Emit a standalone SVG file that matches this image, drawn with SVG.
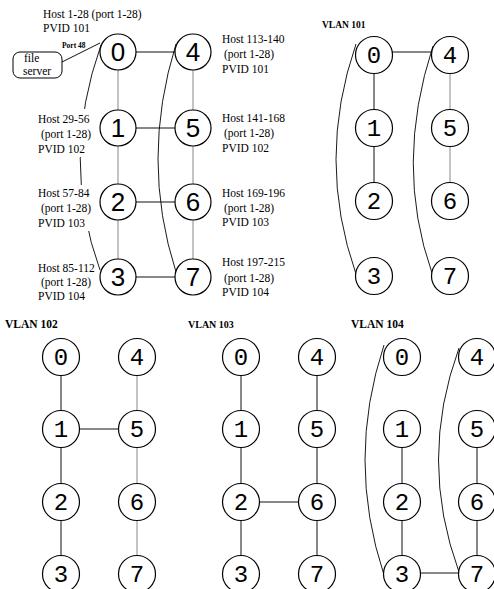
<svg xmlns="http://www.w3.org/2000/svg" width="494" height="589" viewBox="0 0 494 589">
<style>
.n{fill:#fff;stroke:#000;stroke-width:1.2}
.ds{font-family:"Liberation Sans",Arial,sans-serif;font-size:26px;text-anchor:middle;fill:#000}
.dm{font-family:"Liberation Mono","Courier New",monospace;font-size:24px;text-anchor:middle;fill:#000}
.l{font-family:"Liberation Serif","Times New Roman",serif;font-size:11.5px;fill:#000}
.v{font-family:"Liberation Serif","Times New Roman",serif;font-weight:bold;fill:#000}
.e{stroke:#111;stroke-width:1;fill:none}
.g{stroke:#888;stroke-width:1;fill:none}
.a{stroke:#000;stroke-width:0.9;fill:none}
</style>
<defs>
<mask id="lblmask" maskUnits="userSpaceOnUse" x="0" y="0" width="494" height="589">
<rect x="0" y="0" width="494" height="589" fill="#fff"/>
<rect x="36" y="109" width="62" height="48" fill="#000"/>
<rect x="36" y="185" width="62" height="46" fill="#000"/>
<rect x="36" y="261" width="60" height="42" fill="#000"/>
</mask>
</defs>

<!-- labels -->
<g id="labels">
<text class="l" x="43" y="18">Host 1-28 (port 1-28)</text>
<text class="l" x="43" y="32">PVID 101</text>
<text class="l" x="38" y="123">Host 29-56</text>
<text class="l" x="41" y="138">(port 1-28)</text>
<text class="l" x="38" y="153">PVID 102</text>
<text class="l" x="38" y="197">Host 57-84</text>
<text class="l" x="41" y="212">(port 1-28)</text>
<text class="l" x="38" y="227">PVID 103</text>
<text class="l" x="38" y="272">Host 85-112</text>
<text class="l" x="41" y="286">(port 1-28)</text>
<text class="l" x="38" y="300">PVID 104</text>
<text class="l" x="222" y="43">Host 113-140</text>
<text class="l" x="224" y="58">(port 1-28)</text>
<text class="l" x="222" y="73">PVID 101</text>
<text class="l" x="222" y="122">Host 141-168</text>
<text class="l" x="224" y="137">(port 1-28)</text>
<text class="l" x="222" y="152">PVID 102</text>
<text class="l" x="222" y="197">Host 169-196</text>
<text class="l" x="224" y="212">(port 1-28)</text>
<text class="l" x="222" y="226">PVID 103</text>
<text class="l" x="222" y="266">Host 197-215</text>
<text class="l" x="224" y="282">(port 1-28)</text>
<text class="l" x="222" y="296">PVID 104</text>
<text class="v" x="62" y="48" font-size="7.5">Port 48</text>
<text class="v" x="322" y="28" font-size="9.5">VLAN 101</text>
<text class="v" x="5" y="328" font-size="11.5">VLAN 102</text>
<text class="v" x="188" y="328" font-size="10">VLAN 103</text>
<text class="v" x="351" y="328" font-size="11.5">VLAN 104</text>
</g>

<!-- connectors -->
<g id="connectors">
<!-- main panel -->
<line class="e" x1="62" y1="62" x2="100" y2="43"/>
<line class="e" x1="136" y1="52" x2="175" y2="52"/>
<line class="g" x1="118" y1="70" x2="118" y2="110"/>
<line class="g" x1="118" y1="146" x2="118" y2="184"/>
<line class="g" x1="118" y1="220" x2="118" y2="259"/>
<line class="g" x1="193" y1="70" x2="193" y2="110"/>
<line class="g" x1="193" y1="146" x2="193" y2="184"/>
<line class="g" x1="193" y1="220" x2="193" y2="259"/>
<line class="e" x1="136" y1="128" x2="175" y2="128"/>
<line class="e" x1="136" y1="202" x2="175" y2="202"/>
<line class="e" x1="136" y1="277" x2="175" y2="277"/>
<path class="a" d="M101,45 Q60,160 100,270" mask="url(#lblmask)"/>
<path class="a" d="M176,44 Q140,160 176,272"/>
<!-- VLAN 101 -->
<line class="e" x1="392" y1="52" x2="432" y2="52"/>
<line class="e" x1="374" y1="73" x2="374" y2="110"/>
<line class="e" x1="374" y1="146" x2="374" y2="183"/>
<line class="g" x1="450" y1="73" x2="450" y2="110"/>
<line class="g" x1="450" y1="146" x2="450" y2="183"/>
<path class="a" d="M356,44 Q316,160 356,274"/>
<path class="a" d="M433,46 Q394,165 432,273"/>
<!-- VLAN 102 -->
<line class="e" x1="61" y1="375" x2="61" y2="411"/>
<line class="e" x1="61" y1="447" x2="61" y2="484"/>
<line class="e" x1="61" y1="520" x2="61" y2="556"/>
<line class="g" x1="137" y1="375" x2="137" y2="411"/>
<line class="g" x1="137" y1="447" x2="137" y2="484"/>
<line class="g" x1="137" y1="520" x2="137" y2="556"/>
<line class="e" x1="79" y1="429" x2="119" y2="429"/>
<!-- VLAN 103 -->
<line class="e" x1="241" y1="375" x2="241" y2="411"/>
<line class="e" x1="241" y1="447" x2="241" y2="484"/>
<line class="e" x1="241" y1="520" x2="241" y2="556"/>
<line class="e" x1="317" y1="375" x2="317" y2="411"/>
<line class="e" x1="317" y1="447" x2="317" y2="484"/>
<line class="e" x1="317" y1="520" x2="317" y2="556"/>
<line class="e" x1="259" y1="502" x2="299" y2="502"/>
<!-- VLAN 104 -->
<line class="e" x1="402" y1="447" x2="402" y2="484"/>
<line class="e" x1="402" y1="520" x2="402" y2="556"/>
<line class="e" x1="477" y1="447" x2="477" y2="484"/>
<line class="e" x1="477" y1="520" x2="477" y2="556"/>
<line class="e" x1="420" y1="573" x2="459" y2="573"/>
<path class="a" d="M384,345 Q346,460 384,575"/>
<path class="a" d="M459,348 Q418,460 459,572"/>
</g>

<!-- file server -->
<g id="fileserver">
<rect x="13" y="52" width="49" height="26" rx="7" fill="#fff" stroke="#000" stroke-width="1"/>
<text class="l" x="24" y="62" font-size="12">file</text>
<text class="l" x="23" y="75" font-size="12">server</text>
</g>

<!-- main panel nodes -->
<g id="m0"><circle class="n" cx="118" cy="52" r="18"/><text class="ds" x="118" y="61">0</text></g>
<g id="m1"><circle class="n" cx="118" cy="128" r="18"/><text class="ds" x="118" y="137">1</text></g>
<g id="m2"><circle class="n" cx="118" cy="202" r="18"/><text class="ds" x="118" y="211">2</text></g>
<g id="m3"><circle class="n" cx="118" cy="277" r="18"/><text class="ds" x="118" y="286">3</text></g>
<g id="m4"><circle class="n" cx="193" cy="52" r="18"/><text class="ds" x="193" y="61">4</text></g>
<g id="m5"><circle class="n" cx="193" cy="128" r="18"/><text class="ds" x="193" y="137">5</text></g>
<g id="m6"><circle class="n" cx="193" cy="202" r="18"/><text class="ds" x="193" y="211">6</text></g>
<g id="m7"><circle class="n" cx="193" cy="277" r="18"/><text class="ds" x="193" y="286">7</text></g>

<!-- VLAN 101 nodes -->
<g id="a0"><circle class="n" cx="374" cy="55" r="18.5"/><text class="dm" x="374" y="63">0</text></g>
<g id="a1"><circle class="n" cx="374" cy="128" r="18.5"/><text class="dm" x="374" y="136">1</text></g>
<g id="a2"><circle class="n" cx="374" cy="201" r="18.5"/><text class="dm" x="374" y="209">2</text></g>
<g id="a3"><circle class="n" cx="374" cy="276" r="18.5"/><text class="dm" x="374" y="284">3</text></g>
<g id="a4"><circle class="n" cx="450" cy="55" r="18.5"/><text class="dm" x="450" y="63">4</text></g>
<g id="a5"><circle class="n" cx="450" cy="128" r="18.5"/><text class="dm" x="450" y="136">5</text></g>
<g id="a6"><circle class="n" cx="450" cy="201" r="18.5"/><text class="dm" x="450" y="209">6</text></g>
<g id="a7"><circle class="n" cx="450" cy="276" r="18.5"/><text class="dm" x="450" y="284">7</text></g>

<!-- VLAN 102 nodes -->
<g id="b0"><circle class="n" cx="61" cy="357" r="18.5"/><text class="dm" x="61" y="365">0</text></g>
<g id="b1"><circle class="n" cx="61" cy="429" r="18.5"/><text class="dm" x="61" y="437">1</text></g>
<g id="b2"><circle class="n" cx="61" cy="502" r="18.5"/><text class="dm" x="61" y="510">2</text></g>
<g id="b3"><circle class="n" cx="61" cy="574" r="18.5"/><text class="dm" x="61" y="582">3</text></g>
<g id="b4"><circle class="n" cx="137" cy="357" r="18.5"/><text class="dm" x="137" y="365">4</text></g>
<g id="b5"><circle class="n" cx="137" cy="429" r="18.5"/><text class="dm" x="137" y="437">5</text></g>
<g id="b6"><circle class="n" cx="137" cy="502" r="18.5"/><text class="dm" x="137" y="510">6</text></g>
<g id="b7"><circle class="n" cx="137" cy="574" r="18.5"/><text class="dm" x="137" y="582">7</text></g>

<!-- VLAN 103 nodes -->
<g id="c0"><circle class="n" cx="241" cy="357" r="18.5"/><text class="dm" x="241" y="365">0</text></g>
<g id="c1"><circle class="n" cx="241" cy="429" r="18.5"/><text class="dm" x="241" y="437">1</text></g>
<g id="c2"><circle class="n" cx="241" cy="502" r="18.5"/><text class="dm" x="241" y="510">2</text></g>
<g id="c3"><circle class="n" cx="241" cy="574" r="18.5"/><text class="dm" x="241" y="582">3</text></g>
<g id="c4"><circle class="n" cx="317" cy="357" r="18.5"/><text class="dm" x="317" y="365">4</text></g>
<g id="c5"><circle class="n" cx="317" cy="429" r="18.5"/><text class="dm" x="317" y="437">5</text></g>
<g id="c6"><circle class="n" cx="317" cy="502" r="18.5"/><text class="dm" x="317" y="510">6</text></g>
<g id="c7"><circle class="n" cx="317" cy="574" r="18.5"/><text class="dm" x="317" y="582">7</text></g>

<!-- VLAN 104 nodes -->
<g id="d0"><circle class="n" cx="402" cy="357" r="18.5"/><text class="dm" x="402" y="365">0</text></g>
<g id="d1"><circle class="n" cx="402" cy="429" r="18.5"/><text class="dm" x="402" y="437">1</text></g>
<g id="d2"><circle class="n" cx="402" cy="502" r="18.5"/><text class="dm" x="402" y="510">2</text></g>
<g id="d3"><circle class="n" cx="402" cy="574" r="18.5"/><text class="dm" x="402" y="582">3</text></g>
<g id="d4"><circle class="n" cx="477" cy="357" r="18.5"/><text class="dm" x="477" y="365">4</text></g>
<g id="d5"><circle class="n" cx="477" cy="429" r="18.5"/><text class="dm" x="477" y="437">5</text></g>
<g id="d6"><circle class="n" cx="477" cy="502" r="18.5"/><text class="dm" x="477" y="510">6</text></g>
<g id="d7"><circle class="n" cx="477" cy="574" r="18.5"/><text class="dm" x="477" y="582">7</text></g>
</svg>
